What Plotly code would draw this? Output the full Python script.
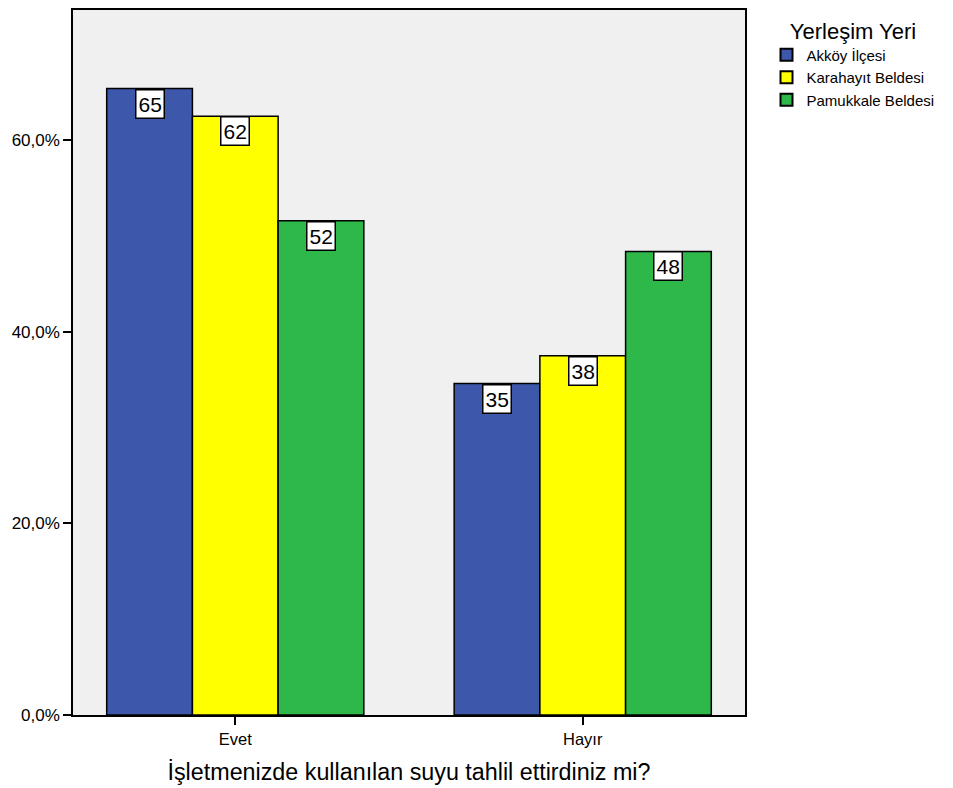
import plotly.graph_objects as go

categories = ["Evet", "Hayır"]
series_names = ["Akköy İlçesi", "Karahayıt Beldesi", "Pamukkale Beldesi"]
akkoy = [65.4, 34.6]
karahayit = [62.5, 37.5]
pamukkale = [51.6, 48.4]
labels_akkoy = ["65", "35"]
labels_karahayit = ["62", "38"]
labels_pamukkale = ["52", "48"]
y_tick_vals = [0, 20, 40, 60]
y_tick_text = ["0,0%", "20,0%", "40,0%", "60,0%"]

colors = ["#3D58AB", "#FFFF00", "#2EB84A"]
values = [akkoy, karahayit, pamukkale]
labels = [labels_akkoy, labels_karahayit, labels_pamukkale]

FONT = "Arial, Liberation Sans, sans-serif"
bargap = 0.26
bw = (1 - bargap) / 3

fig = go.Figure()
for name, vals, col in zip(series_names, values, colors):
    fig.add_trace(go.Bar(
        x=categories, y=vals, name=name,
        marker=dict(color=col, line=dict(color="#000000", width=1.5)),
    ))

for si, (vals, labs) in enumerate(zip(values, labels)):
    off = (si - 1) * bw
    for ci, (v, t) in enumerate(zip(vals, labs)):
        fig.add_annotation(
            x=ci + off, y=v, xref="x", yref="y", text=t, showarrow=False,
            yanchor="top", xanchor="center",
            font=dict(family=FONT, size=21, color="#000000"),
            bgcolor="#FFFFFF", bordercolor="#000000", borderwidth=1.5,
            borderpad=2,
        )

# the page body has an 8px margin; sizes account for it
fig.update_layout(
    width=945, height=780,
    margin=dict(l=65, r=208, t=0, b=73),
    barmode="group", bargap=bargap, bargroupgap=0,
    plot_bgcolor="#F0F0F0", paper_bgcolor="#FFFFFF",
    font=dict(family=FONT, color="#000000"),
    legend=dict(
        x=1.032, y=1.0, xanchor="left", yanchor="top",
        title=dict(text="Yerleşim Yeri", font=dict(size=22, family=FONT), side="top center"),
        font=dict(size=15, family=FONT),
        tracegroupgap=0, itemsizing="constant",
        bgcolor="rgba(0,0,0,0)",
    ),
    xaxis=dict(
        type="category", range=[-0.467, 1.467],
        showline=True, linecolor="#000000", linewidth=1.5, mirror=True,
        ticks="outside", ticklen=8, tickcolor="#000000", tickwidth=1.5,
        tickfont=dict(size=16.5, family=FONT),
        title=dict(text="İşletmenizde kullanılan suyu tahlil ettirdiniz mi?",
                   font=dict(size=23.3, family=FONT), standoff=17),
        showgrid=False,
    ),
    yaxis=dict(
        range=[0, 73.6],
        tickvals=y_tick_vals, ticktext=y_tick_text,
        showline=True, linecolor="#000000", linewidth=1.5, mirror=True,
        ticks="outside", ticklen=8, tickcolor="#000000", tickwidth=1.5,
        tickfont=dict(size=17, family=FONT),
        showgrid=False, zeroline=False,
    ),
)

fig.write_html("out.html")
